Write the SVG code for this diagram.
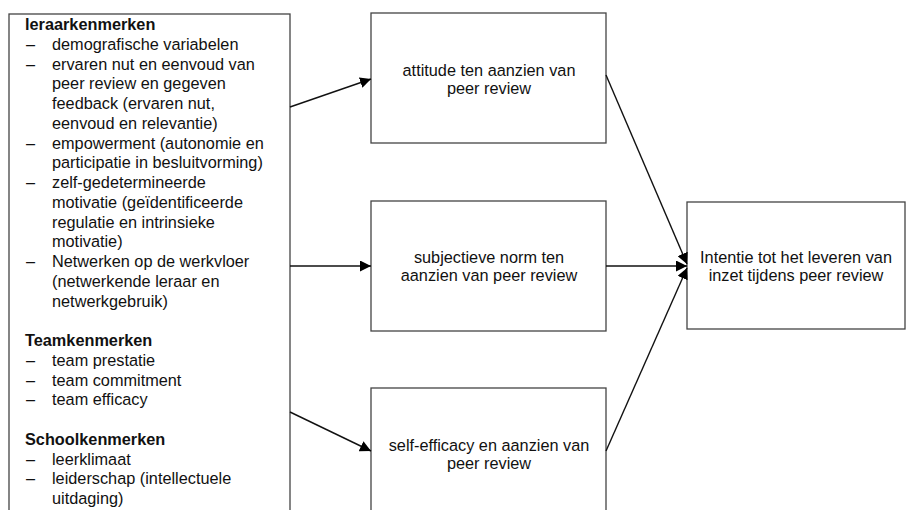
<svg xmlns="http://www.w3.org/2000/svg" width="907" height="510" viewBox="0 0 907 510">
<style>
.box{fill:#fff;stroke:#444;stroke-width:1.3}
.t{font-family:"Liberation Sans",Arial,sans-serif;font-size:16.3px;fill:#111}
.b{font-weight:bold}
.c{font-family:"Liberation Sans",Arial,sans-serif;font-size:16.3px;fill:#111;text-anchor:middle}
.ln{stroke:#111;stroke-width:1.4;fill:none}
</style>
<defs>
<marker id="ah" viewBox="0 0 10 10" refX="10" refY="5" markerWidth="11" markerHeight="11" markerUnits="userSpaceOnUse" orient="auto">
<path d="M0,0 L10,5 L0,10 z" fill="#000"/>
</marker>
</defs>
<rect width="907" height="510" fill="#fff"/>
<g id="kenmerken">
<rect class="box" x="9" y="14" width="281" height="510"/>
<text class="t b" x="25" y="30">leraarkenmerken</text>
<text class="t" x="26" y="49.7">–</text><text class="t" x="52" y="49.7">demografische variabelen</text>
<text class="t" x="26" y="69.5">–</text><text class="t" x="52" y="69.5">ervaren nut en eenvoud van</text>
<text class="t" x="52" y="89.2">peer review en gegeven</text>
<text class="t" x="52" y="109">feedback (ervaren nut,</text>
<text class="t" x="52" y="128.7">eenvoud en relevantie)</text>
<text class="t" x="26" y="148.5">–</text><text class="t" x="52" y="148.5">empowerment (autonomie en</text>
<text class="t" x="52" y="168.2">participatie in besluitvorming)</text>
<text class="t" x="26" y="188">–</text><text class="t" x="52" y="188">zelf-gedetermineerde</text>
<text class="t" x="52" y="207.7">motivatie (geïdentificeerde</text>
<text class="t" x="52" y="227.5">regulatie en intrinsieke</text>
<text class="t" x="52" y="247.2">motivatie)</text>
<text class="t" x="26" y="267">–</text><text class="t" x="52" y="267">Netwerken op de werkvloer</text>
<text class="t" x="52" y="286.7">(netwerkende leraar en</text>
<text class="t" x="52" y="306.5">netwerkgebruik)</text>
<text class="t b" x="25" y="346">Teamkenmerken</text>
<text class="t" x="26" y="365.7">–</text><text class="t" x="52" y="365.7">team prestatie</text>
<text class="t" x="26" y="385.5">–</text><text class="t" x="52" y="385.5">team commitment</text>
<text class="t" x="26" y="405.2">–</text><text class="t" x="52" y="405.2">team efficacy</text>
<text class="t b" x="25" y="444.7">Schoolkenmerken</text>
<text class="t" x="26" y="464.5">–</text><text class="t" x="52" y="464.5">leerklimaat</text>
<text class="t" x="26" y="484.2">–</text><text class="t" x="52" y="484.2">leiderschap (intellectuele</text>
<text class="t" x="52" y="504">uitdaging)</text>
</g>
<g id="attitude">
<rect class="box" x="371" y="13" width="235" height="130"/>
<text class="c" x="489" y="76">attitude ten aanzien van</text>
<text class="c" x="489" y="94">peer review</text>
</g>
<g id="norm">
<rect class="box" x="371" y="201" width="235" height="130"/>
<text class="c" x="489" y="263">subjectieve norm ten</text>
<text class="c" x="489" y="281">aanzien van peer review</text>
</g>
<g id="selfefficacy">
<rect class="box" x="371" y="388" width="235" height="140"/>
<text class="c" x="489" y="451">self-efficacy en aanzien van</text>
<text class="c" x="489" y="469">peer review</text>
</g>
<g id="intentie">
<rect class="box" x="687" y="202" width="218" height="127"/>
<text class="c" x="796" y="263">Intentie tot het leveren van</text>
<text class="c" x="796" y="281">inzet tijdens peer review</text>
</g>
<g id="connectors">
<line class="ln" x1="290" y1="107" x2="371" y2="79" marker-end="url(#ah)"/>
<line class="ln" x1="290" y1="266" x2="371" y2="266" marker-end="url(#ah)"/>
<line class="ln" x1="290" y1="412" x2="371" y2="451" marker-end="url(#ah)"/>
<line class="ln" x1="606" y1="75" x2="687" y2="264" marker-end="url(#ah)"/>
<line class="ln" x1="606" y1="266" x2="687" y2="266" marker-end="url(#ah)"/>
<line class="ln" x1="606" y1="451" x2="687" y2="268" marker-end="url(#ah)"/>
</g>
</svg>
